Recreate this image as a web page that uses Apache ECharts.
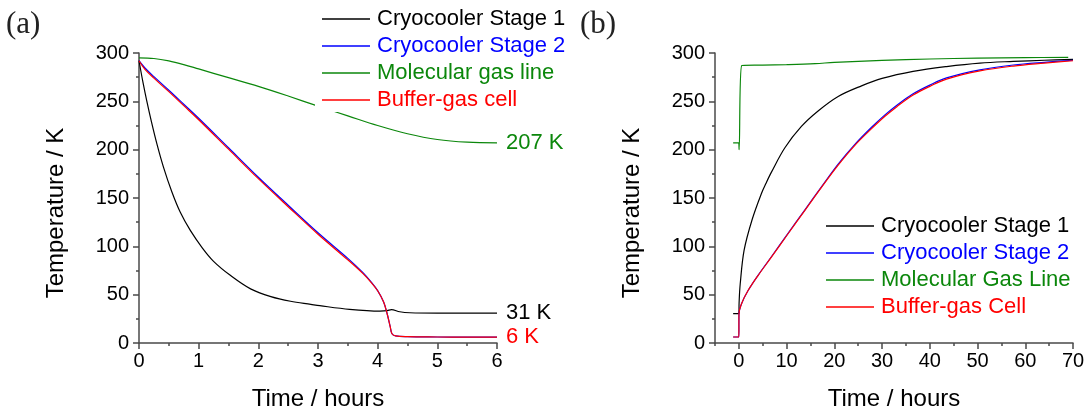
<!DOCTYPE html>
<html>
<head>
<meta charset="utf-8">
<title>Cryostat cool-down and warm-up</title>
<script src="https://cdn.jsdelivr.net/npm/echarts@6/dist/echarts.min.js"></script>
<style>
  html, body { margin: 0; padding: 0; background: #fff; }
  #chart { width: 1086px; height: 413px; }
</style>
</head>
<body>
<div id="chart"></div>
<script>
// (a) cool-down, time in hours, temperature in K
const coolStage1Time = [0, 0.07, 0.13, 0.21, 0.3, 0.41, 0.55, 0.69, 0.86, 1.06, 1.25, 1.53, 1.87, 2.21, 2.54, 2.88, 3.03, 3.53, 4.04, 4.16, 4.23, 4.37, 4.54, 5, 5.5, 6];
const coolStage1Temp = [292, 268.5, 250.5, 228.5, 206, 182, 156.5, 135.5, 116.5, 98.5, 84.5, 70, 56, 48, 43.2, 40, 38.6, 34.8, 33, 33.4, 34.5, 32.3, 31.3, 31, 31, 31];

const coolCellTime = [0, 0.1, 0.25, 0.5, 0.75, 1, 1.5, 2, 2.5, 3, 3.5, 3.75, 3.9, 4, 4.1, 4.16, 4.21, 4.24, 4.3, 4.5, 5, 5.5, 6];
const coolStage2Temp = [292, 284.5, 275.5, 261.5, 247, 232.5, 202, 171.5, 142.5, 114, 87.5, 73, 62.5, 54.2, 42.4, 30, 17, 9.5, 7.3, 6.5, 6.2, 6, 6];
const coolCellTemp = [292, 283, 274, 260, 245.5, 231, 200.5, 170, 141, 112.5, 86, 72, 62, 54, 42.4, 30, 17, 9.5, 7.3, 6.5, 6.2, 6, 6];

const coolGasTime = [0, 0.25, 0.5, 0.75, 1, 1.5, 2, 2.5, 3, 3.5, 4, 4.5, 5, 5.5, 6];
const coolGasTemp = [295, 294.3, 291.8, 288, 283.5, 274.5, 265.5, 255.5, 245, 235, 225, 216.5, 210.5, 207.7, 207];

// (b) warm-up
const warmStage1Time = [-1.2, 0, 0.05, 0.28, 1.1, 2.8, 4.75, 5.66, 6.85, 9.64, 13.1, 16.6, 20.8, 25.7, 30, 36.5, 43.5, 50.5, 57.5, 64, 70];
const warmStage1Temp = [30.3, 30.3, 42, 61, 96, 128, 155, 165, 177, 202, 224, 240, 255, 266, 273.7, 281, 286, 289.6, 291.3, 292.5, 293.5];

const warmCellTime = [-1.2, 0, 0.02, 0.56, 1.96, 4.05, 6.85, 10.3, 13.8, 17.3, 20.8, 24.3, 27.8, 30.6, 33.1, 36.5, 40, 43.5, 50.5, 57.5, 64, 70];
const warmStage2Temp = [6.2, 6.2, 30, 40.7, 54.5, 70.3, 89.5, 113.5, 137.5, 161.5, 185, 205.5, 223.2, 236, 246, 257.8, 266.8, 274.2, 282.6, 287.6, 290.4, 292.5];
const warmCellTemp = [6.2, 6.2, 30, 40.7, 54.5, 70, 89, 113, 137, 161, 184, 204.5, 221.7, 234.5, 244.5, 256.5, 265.5, 273, 281.5, 286.5, 289.5, 292];

const warmGasTime = [-1.2, -0.05, 0.05, 0.6, 5, 10, 16, 20, 30, 40, 50, 60, 69];
const warmGasTemp = [207, 207, 200, 287, 287.5, 288, 289, 290.3, 292.3, 293.8, 294.7, 295.2, 295.5];

// axis ticks
const tempTicks = { min: 0, max: 300, step: 50 };
const coolHourTicks = { min: 0, max: 6, step: 1 };
const warmHourLabels = [0, 10, 20, 30, 40, 50, 60, 70];
const warmHourMinor = [-5, 5, 15, 25, 35, 45, 55, 65];

const SANS = '"Liberation Sans", Arial, sans-serif';
const C_BLACK = '#000000', C_BLUE = '#0000ff', C_GREEN = '#0b870b', C_RED = '#ff0000';
const AXIS_COLOR = '#4a4a4a';

const pairs = (ts, vs) => ts.map((t, i) => [t, vs[i]]);

const axisLineStyle = { color: AXIS_COLOR, width: 1.5 };

function yAxisFor(gridIndex) {
  return {
    type: 'value', gridIndex,
    min: tempTicks.min, max: tempTicks.max, interval: tempTicks.step,
    name: 'Temperature / K', nameLocation: 'middle', nameGap: 71,
    nameTextStyle: { fontFamily: SANS, fontSize: 24, color: '#000', padding: [0, 30, 0, 0] },
    axisLine: { show: true, onZero: false, lineStyle: axisLineStyle },
    axisTick: { show: true, length: 6, lineStyle: axisLineStyle },
    minorTick: { show: true, splitNumber: 2, length: 3, lineStyle: axisLineStyle },
    axisLabel: { fontFamily: SANS, fontSize: 20, color: '#000', margin: 10 },
    splitLine: { show: false }
  };
}

const xName = {
  name: 'Time / hours', nameLocation: 'middle', nameGap: 44,
  nameTextStyle: { fontFamily: SANS, fontSize: 24, color: '#000' }
};

function line(name, xi, data, color, endLabel) {
  const s = {
    name, type: 'line', xAxisIndex: xi, yAxisIndex: xi === 0 ? 0 : 1,
    data, symbol: 'none', showSymbol: false, smooth: 0.35,
    lineStyle: { color, width: 1.2 }, itemStyle: { color },
    emphasis: { disabled: true }, silent: true
  };
  if (endLabel) {
    s.endLabel = {
      show: true, distance: 9, color, fontFamily: SANS, fontSize: 22,
      formatter: p => Math.round(p.value[1]) + ' K'
    };
  }
  return s;
}

const legendText = (name, color) => ({ name, icon: 'rect', itemStyle: { color, borderWidth: 0 }, textStyle: { color } });

const legendCommon = {
  orient: 'vertical', icon: 'rect',
  itemWidth: 48, itemHeight: 1.5, itemGap: 5, selectedMode: false,
  textStyle: { fontFamily: SANS, fontSize: 22, lineHeight: 22, padding: [0, 0, 0, 2] }
};

const option = {
  animation: false,
  backgroundColor: '#fff',
  grid: [
    { left: 139, top: 53, width: 358, height: 290, outerBoundsMode: 'none', containLabel: false },
    { left: 715, top: 53, width: 358, height: 290, outerBoundsMode: 'none', containLabel: false }
  ],
  xAxis: [
    Object.assign({
      type: 'value', gridIndex: 0, position: 'bottom',
      min: coolHourTicks.min, max: coolHourTicks.max, interval: coolHourTicks.step,
      axisLine: { show: true, onZero: false, lineStyle: axisLineStyle },
      axisTick: { show: true, length: 6, lineStyle: axisLineStyle },
      minorTick: { show: true, splitNumber: 2, length: 3, lineStyle: axisLineStyle },
      axisLabel: { fontFamily: SANS, fontSize: 20, color: '#000', margin: 8 },
      splitLine: { show: false }
    }, xName),
    Object.assign({
      type: 'value', gridIndex: 1, position: 'bottom', min: -5, max: 70, interval: 5,
      axisLine: { show: true, onZero: false, lineStyle: axisLineStyle },
      axisTick: { show: true, length: 6, lineStyle: axisLineStyle, customValues: warmHourLabels },
      axisLabel: { fontFamily: SANS, fontSize: 20, color: '#000', margin: 8, customValues: warmHourLabels },
      splitLine: { show: false }
    }, xName),
    {
      type: 'value', gridIndex: 1, position: 'bottom', offset: 0, min: -5, max: 70, interval: 5,
      axisLine: { show: false, onZero: false },
      axisTick: { show: true, length: 3, lineStyle: axisLineStyle, customValues: warmHourMinor },
      axisLabel: { show: false },
      splitLine: { show: false }
    }
  ],
  yAxis: [yAxisFor(0), yAxisFor(1)],
  legend: [
    Object.assign({}, legendCommon, {
      left: 315, top: 3,
      padding: [5, 5, 1, 7], backgroundColor: '#fff',
      data: [
        legendText('Cryocooler Stage 1', C_BLACK),
        legendText('Cryocooler Stage 2', C_BLUE),
        legendText('Molecular gas line', C_GREEN),
        legendText('Buffer-gas cell', C_RED)
      ]
    }),
    Object.assign({}, legendCommon, {
      left: 821, top: 210,
      padding: [5, 5, 5, 5],
      data: [
        legendText('Cryocooler Stage 1', C_BLACK),
        legendText('Cryocooler Stage 2', C_BLUE),
        legendText('Molecular Gas Line', C_GREEN),
        legendText('Buffer-gas Cell', C_RED)
      ]
    })
  ],
  graphic: [
    { type: 'text', left: 6, top: 9, style: { text: '(a)', font: '31px "Liberation Serif", serif', fill: '#222' } },
    { type: 'text', left: 580, top: 9, style: { text: '(b)', font: '31px "Liberation Serif", serif', fill: '#222' } }
  ],
  series: [
    line('Cryocooler Stage 1', 0, pairs(coolStage1Time, coolStage1Temp), C_BLACK, true),
    line('Cryocooler Stage 2', 0, pairs(coolCellTime, coolStage2Temp), C_BLUE, false),
    line('Buffer-gas cell', 0, pairs(coolCellTime, coolCellTemp), C_RED, true),
    line('Molecular gas line', 0, pairs(coolGasTime, coolGasTemp), C_GREEN, true),

    line('Cryocooler Stage 1', 1, pairs(warmStage1Time, warmStage1Temp), C_BLACK, false),
    line('Cryocooler Stage 2', 1, pairs(warmCellTime, warmStage2Temp), C_BLUE, false),
    line('Buffer-gas Cell', 1, pairs(warmCellTime, warmCellTemp), C_RED, false),
    line('Molecular Gas Line', 1, pairs(warmGasTime, warmGasTemp), C_GREEN, false)
  ]
};

const chart = echarts.init(document.getElementById('chart'), null, { renderer: 'canvas' });
chart.setOption(option);
</script>
</body>
</html>
